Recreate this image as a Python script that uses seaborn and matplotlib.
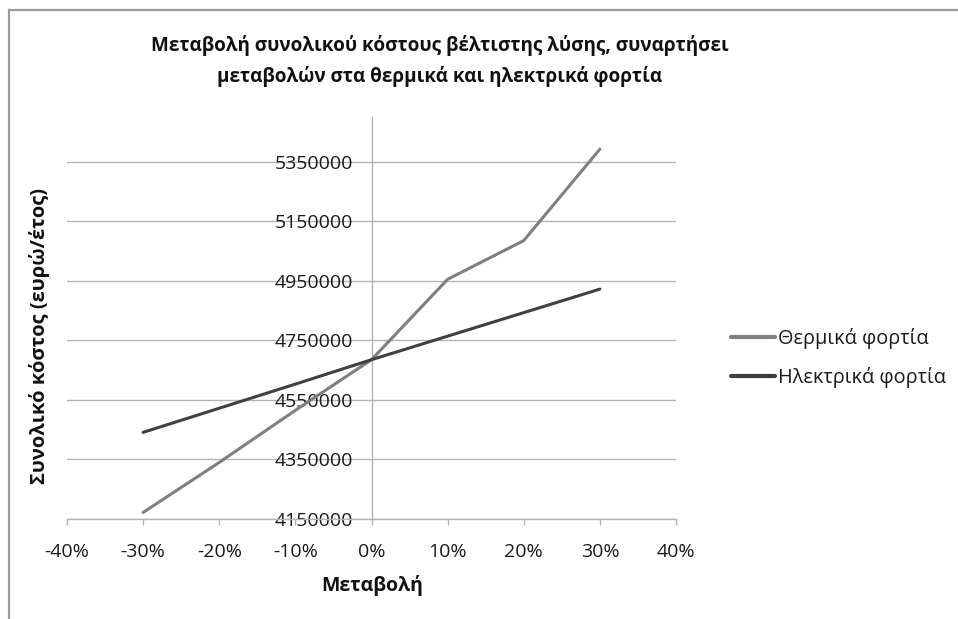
import numpy as np
import pandas as pd
import matplotlib
matplotlib.use("Agg")
import matplotlib.pyplot as plt
from matplotlib.patches import Rectangle
import seaborn as sns

# Percentage change applied to the loads
changes = [-0.30, -0.20, -0.10, 0.00, 0.10, 0.20, 0.30]
# Total cost of the optimal solution (euro/year)
thermal_cost = [4172000, 4340000, 4515000, 4685000, 4955000, 5085000, 5392000]
electric_cost = [4441000, 4522000, 4603000, 4685000, 4764000, 4843000, 4922000]

series_names = ["Θερμικά φορτία", "Ηλεκτρικά φορτία"]
series_colors = ["#7f7f7f", "#404040"]

x_ticks = [-0.40, -0.30, -0.20, -0.10, 0.00, 0.10, 0.20, 0.30, 0.40]
x_tick_labels = ["-40%", "-30%", "-20%", "-10%", "0%", "10%", "20%", "30%", "40%"]
y_ticks = [4150000, 4350000, 4550000, 4750000, 4950000, 5150000, 5350000]
y_limits = (4150000, 5500000)

title = "Μεταβολή συνολικού κόστους βέλτιστης λύσης, συναρτήσει\nμεταβολών στα θερμικά και ηλεκτρικά φορτία"
x_label = "Μεταβολή"
y_label = "Συνολικό κόστος (ευρώ/έτος)"

df = pd.DataFrame({
    "change": changes * 2,
    "cost": thermal_cost + electric_cost,
    "series": [series_names[0]] * len(changes) + [series_names[1]] * len(changes),
})

sns.set_style("white")
plt.rcParams["font.family"] = ["Open Sans", "DejaVu Sans"]

fig = plt.figure(figsize=(9.58, 6.19), dpi=100)
ax = fig.add_axes([67 / 958, 1 - 519 / 619, (676 - 67) / 958, (519 - 117) / 619])

sns.lineplot(data=df, x="change", y="cost", hue="series", hue_order=series_names,
             palette=series_colors, linewidth=2.2, ax=ax, legend=False,
             solid_capstyle="round", solid_joinstyle="round", zorder=3)

grid_color = "#b4b4b4"
ax.set_xlim(-0.40, 0.40)
ax.set_ylim(*y_limits)
ax.set_xticks(x_ticks)
ax.set_xticklabels(x_tick_labels)
ax.set_yticks(y_ticks)
ax.set_yticklabels([str(v) for v in y_ticks])
ax.yaxis.grid(True, color=grid_color, linewidth=1.0)
ax.xaxis.grid(False)

for side in ("top", "right"):
    ax.spines[side].set_visible(False)
ax.spines["left"].set_position(("data", 0))
ax.spines["left"].set_color(grid_color)
ax.spines["left"].set_linewidth(1.0)
ax.spines["bottom"].set_color(grid_color)
ax.spines["bottom"].set_linewidth(1.0)

ax.tick_params(axis="x", direction="out", length=4, width=1.0, color=grid_color,
               labelsize=14, labelcolor="#1a1a1a", pad=13, bottom=True)
ax.tick_params(axis="y", length=0, labelsize=14, labelcolor="#1a1a1a", pad=13)

ax.set_xlabel("")
ax.set_ylabel("")

fig.text(440 / 958, 1 - 61 / 619, title, ha="center", va="center", fontsize=13.6,
         fontweight="bold", color="#111111", linespacing=1.6)
fig.text(372 / 958, 1 - 585 / 619, x_label, ha="center", va="center", fontsize=14,
         fontweight="bold", color="#111111")
fig.text(40 / 958, 1 - 336 / 619, y_label, ha="center", va="center", rotation=90,
         fontsize=14.5, fontweight="bold", color="#111111")

handles = [plt.Line2D([], [], color=c, linewidth=3.0) for c in series_colors]
fig.legend(handles, series_names, loc="center left",
           bbox_to_anchor=(713 / 958, 1 - 358 / 619), frameon=False,
           fontsize=14.3, handlelength=2.2, handletextpad=0.15, labelspacing=0.95,
           labelcolor="#1a1a1a")

fig.patches.append(Rectangle((8.5 / 958, -0.2), 1.5, 1.2 - 9.5 / 619,
                             transform=fig.transFigure, fill=False,
                             edgecolor="#9a9a9a", linewidth=1.6))

fig.savefig("out.png", dpi=100)
